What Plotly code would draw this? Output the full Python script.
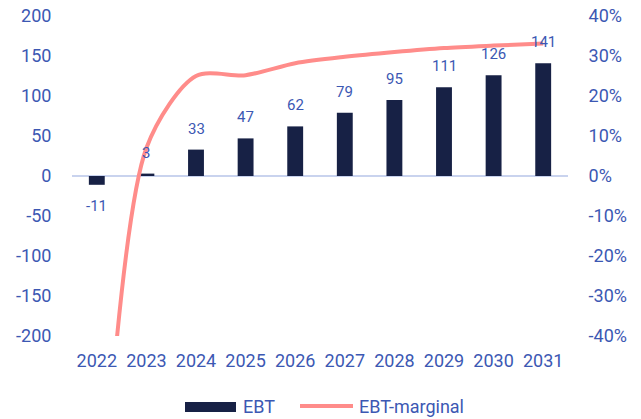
import plotly.graph_objects as go

years = ["2022", "2023", "2024", "2025", "2026", "2027", "2028", "2029", "2030", "2031"]
ebt = [-11, 3, 33, 47, 62, 79, 95, 111, 126, 141]
ebt_margin = [-105, 7, 25, 25.2, 28.2, 29.8, 31, 32, 32.6, 33.1]

left_ticks = [-200, -150, -100, -50, 0, 50, 100, 150, 200]
right_ticks = [-40, -30, -20, -10, 0, 10, 20, 30, 40]

BAR = "#172145"
LINE = "#FF8C8A"
TXT = "#3C58B3"
FONT = "Roboto"

W, H = 641, 419
ML, MR, MT, MB = 72, 73, 16, 83
PW, PH = W - ML - MR, H - MT - MB

fig = go.Figure()
fig.add_trace(go.Bar(x=years, y=ebt, name="EBT", marker=dict(color=BAR, line=dict(width=0)),
                     width=0.32, showlegend=False))
fig.add_trace(go.Scatter(x=years, y=ebt_margin, name="EBT-marginal", yaxis="y2", mode="lines",
                         line=dict(color=LINE, width=4, shape="spline", smoothing=0.8),
                         showlegend=False))

annotations = []
for i, v in enumerate(ebt):
    annotations.append(dict(x=i, y=v, xref="x", yref="y", text=str(v), showarrow=False,
                            yanchor="bottom" if v >= 0 else "top",
                            yshift=10 if v >= 0 else -10,
                            font=dict(family=FONT, size=15, color=TXT)))

shapes = [
    dict(type="line", xref="x", yref="y", x0=-0.5, x1=9.5, y0=0, y1=0,
         line=dict(color="#C9D3EE", width=2), layer="below"),
    dict(type="rect", xref="paper", yref="paper",
         x0=(185 - ML) / PW, x1=(236 - ML) / PW,
         y0=(H - MB - 412) / PH, y1=(H - MB - 402) / PH,
         fillcolor=BAR, line=dict(width=0)),
    dict(type="line", xref="paper", yref="paper",
         x0=(300 - ML) / PW, x1=(353 - ML) / PW,
         y0=(H - MB - 406) / PH, y1=(H - MB - 406) / PH,
         line=dict(color=LINE, width=4)),
]
for label, lx in [("EBT", 241), ("EBT-marginal", 357)]:
    annotations.append(dict(xref="paper", yref="paper", x=(lx - ML) / PW,
                            y=(H - MB - 406) / PH, xanchor="left", yanchor="middle",
                            text=label, showarrow=False,
                            font=dict(family=FONT, size=18, color=TXT)))

fig.update_layout(
    width=W, height=H,
    margin=dict(l=ML, r=MR, t=MT, b=MB, autoexpand=False),
    paper_bgcolor="white", plot_bgcolor="white",
    font=dict(family=FONT, size=18, color=TXT),
    xaxis=dict(type="category", range=[-0.5, 9.5], showgrid=False, zeroline=False, showline=False,
               ticks="outside", ticklen=8, tickcolor="rgba(0,0,0,0)",
               tickfont=dict(family=FONT, size=18, color=TXT)),
    yaxis=dict(range=[-200, 200], tickvals=left_ticks, ticktext=[str(t) for t in left_ticks],
               showgrid=False, zeroline=False, showline=False,
               ticks="outside", ticklen=16, tickcolor="rgba(0,0,0,0)",
               tickfont=dict(family=FONT, size=18, color=TXT)),
    yaxis2=dict(range=[-40, 40], tickvals=right_ticks, ticktext=[f"{t}%" for t in right_ticks],
                overlaying="y", side="right", showgrid=False, zeroline=False, showline=False,
                ticks="outside", ticklen=16, tickcolor="rgba(0,0,0,0)",
                tickfont=dict(family=FONT, size=18, color=TXT)),
    annotations=annotations,
    shapes=shapes,
    showlegend=False,
)

fig.write_html("out.html")
